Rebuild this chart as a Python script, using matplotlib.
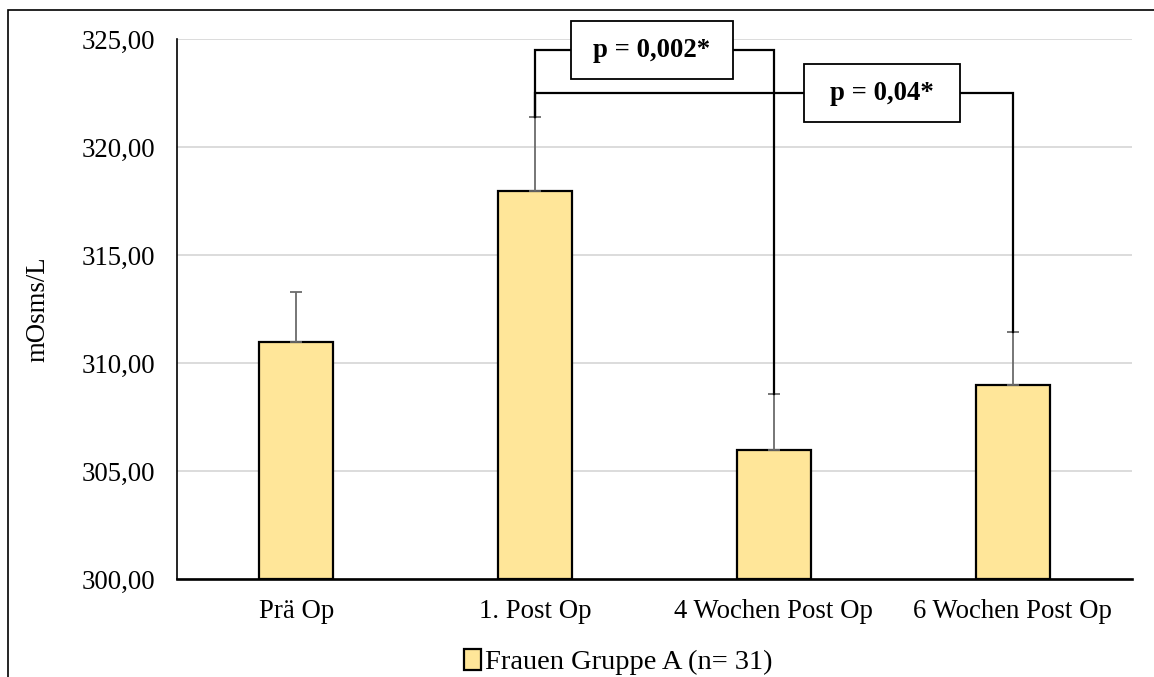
import matplotlib.pyplot as plt
from matplotlib.patches import Rectangle, Patch
from matplotlib.ticker import FuncFormatter

plt.rcParams['font.family'] = ['Liberation Serif', 'DejaVu Serif']

# Mittelwerte und Standardabweichungen der Osmolarität
categories = ['Prä Op', '1. Post Op', '4 Wochen Post Op', '6 Wochen Post Op']
means = [311.0, 318.0, 306.0, 309.0]
sd = [2.3, 3.4, 2.6, 2.45]
series_label = 'Frauen Gruppe A (n= 31)'

# Signifikanzklammern: von, bis, Höhe, Text
comp_from = [1, 1]
comp_to = [2, 3]
comp_height = [324.5, 322.5]
comp_text = ['p = 0,002*', 'p = 0,04*']
# Lage und Größe der Textkästen (Kategorie-Einheiten)
box_center = [1.488, 2.453]
box_widths = [0.68, 0.65]
box_height = 2.7

BAR_COLOR = '#FFE699'
FS = 19.3

fig = plt.figure(figsize=(11.54, 6.77), dpi=100)
ax = fig.add_axes([0.1534, 0.1443, 0.8276, 0.7976])

x = list(range(len(categories)))
ax.bar(x, [m - 300 for m in means], bottom=300, width=0.31, color=BAR_COLOR,
       edgecolor='black', linewidth=1.6, zorder=3)
ax.errorbar(x, means, yerr=[[0] * len(sd), sd], fmt='none', ecolor='#6b6b6b',
            elinewidth=1.3, capsize=4.3, capthick=1.3, zorder=4)

ax.set_xlim(-0.5, len(categories) - 0.5)
ax.set_ylim(300, 325)
ax.set_yticks(range(300, 326, 5))
ax.yaxis.set_major_formatter(FuncFormatter(lambda v, _: f'{v:.2f}'.replace('.', ',')))
ax.set_xticks(x)
ax.set_xticklabels(categories)
ax.tick_params(axis='both', length=0, labelsize=FS)
ax.tick_params(axis='y', pad=15.5)
ax.tick_params(axis='x', pad=14)

ax.grid(axis='y', color='#d9d9d9', linewidth=1.3, zorder=0)
ax.set_axisbelow(True)
for side in ['top', 'right']:
    ax.spines[side].set_visible(False)
ax.spines['left'].set_linewidth(1.2)
ax.spines['bottom'].set_linewidth(1.9)
ax.spines['bottom'].set_zorder(5)

ax.set_ylabel('mOsms/L', fontsize=FS)
ax.yaxis.set_label_coords(-0.133, 0.5)

# Klammern mit p-Werten
tops = [m + s for m, s in zip(means, sd)]
for i, j, h, txt, cx, bw in zip(comp_from, comp_to, comp_height, comp_text,
                                box_center, box_widths):
    ax.plot([i, i, j, j], [tops[i], h, h, tops[j]], color='black', lw=1.6,
            zorder=6, clip_on=False, solid_joinstyle='miter')
    ax.add_patch(Rectangle((cx - bw / 2, h - box_height / 2), bw, box_height,
                           facecolor='white', edgecolor='black', lw=1.3,
                           zorder=7, clip_on=False))
    ax.text(cx, h, txt, ha='center', va='center', fontsize=FS,
            fontweight='bold', zorder=8)

handles = [Patch(facecolor=BAR_COLOR, edgecolor='black', linewidth=1.6)]
fig.legend(handles, [series_label], loc='center', bbox_to_anchor=(0.536, 0.022),
           frameon=False, fontsize=20.5, handlelength=0.6, handleheight=0.75,
           handletextpad=0.15)

# Rahmen um die gesamte Grafik
fig.add_artist(Rectangle((8 / 1154, -0.1), 1.2, 1.1 - 10 / 677,
                         transform=fig.transFigure, fill=False,
                         edgecolor='black', lw=1.2))

fig.savefig('out.png', dpi=100)
